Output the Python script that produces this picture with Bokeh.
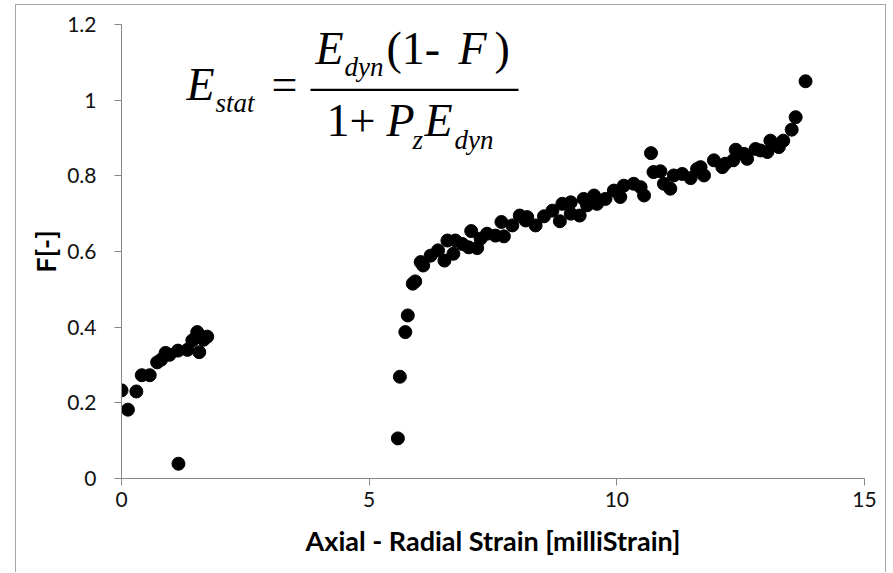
from bokeh.plotting import figure
from bokeh.models import FixedTicker, NumeralTickFormatter, Label, BoxAnnotation
from bokeh.embed import file_html
from bokeh.resources import INLINE

# ---- data ----
strain = [0.00, 0.13, 0.30, 0.41, 0.57, 0.72, 0.80, 0.89, 0.97, 1.14, 1.15, 1.33,
          1.43, 1.50, 1.53, 1.57, 1.66, 1.73,
          5.58, 5.62, 5.73, 5.78, 5.88, 5.93, 6.04, 6.09, 6.24, 6.39, 6.52, 6.58,
          6.70, 6.74, 6.88, 7.01, 7.06, 7.18, 7.25, 7.38, 7.55, 7.67, 7.72, 7.89,
          8.04, 8.16, 8.19, 8.36, 8.53, 8.70, 8.85, 8.90, 9.07, 9.07, 9.25, 9.33,
          9.40, 9.54, 9.60, 9.77, 9.94, 10.07, 10.14, 10.34, 10.48, 10.55, 10.69,
          10.74, 10.88, 10.95, 11.08, 11.15, 11.32, 11.49, 11.62, 11.69, 11.76,
          11.96, 12.13, 12.19, 12.35, 12.40, 12.57, 12.63, 12.80, 12.90, 13.04,
          13.10, 13.27, 13.36, 13.53, 13.61, 13.81]
f_value = [0.233, 0.182, 0.230, 0.273, 0.273, 0.307, 0.314, 0.332, 0.327, 0.338, 0.039, 0.340,
           0.365, 0.372, 0.387, 0.334, 0.367, 0.375,
           0.106, 0.269, 0.387, 0.431, 0.515, 0.521, 0.572, 0.563, 0.589, 0.603, 0.576, 0.629,
           0.594, 0.629, 0.620, 0.611, 0.654, 0.609, 0.634, 0.647, 0.642, 0.678, 0.640, 0.669,
           0.695, 0.682, 0.691, 0.669, 0.693, 0.708, 0.680, 0.726, 0.730, 0.700, 0.695, 0.739,
           0.722, 0.748, 0.726, 0.739, 0.761, 0.744, 0.774, 0.779, 0.770, 0.748, 0.860,
           0.810, 0.812, 0.779, 0.766, 0.801, 0.805, 0.794, 0.818, 0.823, 0.801,
           0.841, 0.823, 0.832, 0.841, 0.869, 0.858, 0.845, 0.871, 0.867, 0.863,
           0.893, 0.876, 0.893, 0.922, 0.955, 1.050]
x_ticks = [0, 5, 10, 15]
y_ticks = [0, 0.2, 0.4, 0.6, 0.8, 1.0, 1.2]
x_title = "Axial - Radial Strain [milliStrain]"
y_title = "F[-]"

X_MIN, X_MAX = 0, 15
Y_MIN, Y_MAX = 0, 1.2

p = figure(width=871, height=568, output_backend="svg", toolbar_location=None,
           x_range=(X_MIN, X_MAX), y_range=(Y_MIN, Y_MAX),
           min_border_left=105, min_border_right=23, min_border_top=19, min_border_bottom=95)
p.margin = (4, 0, 0, 15)
p.styles = {"border-top": "1px solid #a6a6a6", "border-left": "1px solid #a6a6a6",
            "border-right": "1px solid #a6a6a6"}
p.outline_line_color = None
p.background_fill_color = "white"
p.border_fill_color = "white"
p.xgrid.visible = False
p.ygrid.visible = False

p.scatter(strain, f_value, size=13, color="black")

AX_COLOR = "#868686"
for ax in (p.xaxis[0], p.yaxis[0]):
    ax.axis_line_color = AX_COLOR
    ax.major_tick_line_color = AX_COLOR
    ax.major_tick_out = 7
    ax.major_tick_in = 0
    ax.minor_tick_line_color = None
    ax.major_label_text_font = "Lato"
    ax.major_label_text_font_size = "21px"
    ax.major_label_text_color = "#111111"
    ax.axis_label_text_font = "Lato"
    ax.axis_label_text_font_style = "bold"
    ax.axis_label_text_font_size = "27px"
    ax.axis_label_text_color = "black"

p.xaxis.ticker = FixedTicker(ticks=x_ticks)
p.yaxis.ticker = FixedTicker(ticks=y_ticks)
p.yaxis.formatter = NumeralTickFormatter(format="0.[0]")
p.xaxis.axis_label = x_title
p.yaxis.axis_label = y_title
p.xaxis.major_label_standoff = 6
p.yaxis.major_label_standoff = 18
p.xaxis.axis_label_standoff = 14
p.yaxis.axis_label_standoff = 2

# ---- formula annotation (placed via pixel -> data mapping of the frame) ----
FR_L, FR_R, FR_T, FR_B = 121, 864, 24, 478
def dx(px):
    return X_MIN + (px - FR_L) * (X_MAX - X_MIN) / (FR_R - FR_L)
def dy(py):
    return Y_MIN + (FR_B - py) * (Y_MAX - Y_MIN) / (FR_B - FR_T)

SERIF = "Liberation Serif"
BIG, SMALL = 46, 27
BASE_FIX = 0.37  # renderer baseline correction, in em
pieces = [
    ("E", 186, 101, BIG, "italic"),
    ("stat", 215, 112.7, SMALL, "italic"),
    ("=", 271, 101, BIG, "normal"),
    ("E", 315, 65, BIG, "italic"),
    ("dyn", 344, 76.5, SMALL, "italic"),
    ("(1-", 386, 65, BIG, "normal"),
    ("F", 458, 65, BIG, "italic"),
    (")", 494, 65, BIG, "normal"),
    ("1+", 326, 137.5, BIG, "normal"),
    ("P", 386, 137.5, BIG, "italic"),
    ("z", 412, 149, SMALL, "italic"),
    ("E", 424, 137.5, BIG, "italic"),
    ("dyn", 454, 149, SMALL, "italic"),
]
for txt, px, py, size, style in pieces:
    p.add_layout(Label(x=dx(px), y=dy(py - BASE_FIX * size), text=txt, text_font=SERIF,
                       text_font_size=f"{size}px", text_font_style=style,
                       text_color="black", text_align="left",
                       text_baseline="alphabetic"))

p.add_layout(BoxAnnotation(left=dx(310), right=dx(518), bottom=dy(90.5), top=dy(88.2),
                           fill_color="black", fill_alpha=1.0, line_color=None))

open("out.html", "w").write(file_html(p, INLINE))
